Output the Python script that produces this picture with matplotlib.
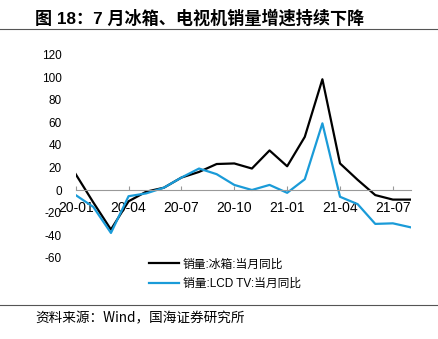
import matplotlib
matplotlib.use('Agg')
import matplotlib.pyplot as plt
from matplotlib.lines import Line2D

plt.rcParams['font.family'] = ['Liberation Sans', 'Noto Sans CJK SC', 'DejaVu Sans']

# 月份与数据
months = ['20-01', '20-02', '20-03', '20-04', '20-05', '20-06', '20-07', '20-08', '20-09', '20-10',
          '20-11', '20-12', '21-01', '21-02', '21-03', '21-04', '21-05', '21-06', '21-07', '21-08']
fridge = [14, -11, -35, -10, -1.5, 2, 11, 16, 23, 23.5, 19, 35, 21, 47, 98, 23.5, 9, -4.5, -8.5, -8.5]
lcd_tv = [-4.5, -15, -38, -5.5, -3, 2, 11, 19, 14, 4.5, 0, 4.5, -2.5, 9.5, 59, -6, -12.5, -30, -29.5, -33]
tick_labels = ['20-01', '20-04', '20-07', '20-10', '21-01', '21-04', '21-07']
yticks = [-60, -40, -20, 0, 20, 40, 60, 80, 100, 120]

fig = plt.figure(figsize=(4.38, 3.39), dpi=100)
ax = fig.add_axes([75.7 / 438, 1 - 257.8 / 339, (410.5 - 75.7) / 438, (257.8 - 54.4) / 339])

x = list(range(len(months)))
l1, = ax.plot(x, fridge, color='black', lw=1.6, label='销量:冰箱:当月同比')
l2, = ax.plot(x, lcd_tv, color='#1a9bd8', lw=1.6, label='销量:LCD TV:当月同比')

ax.set_xlim(0, len(months) - 1)
ax.set_ylim(-60, 120)
ax.set_yticks(yticks)
ax.set_yticklabels([str(v) for v in yticks], fontsize=8.5)
pos = [months.index(m) for m in tick_labels]
ax.set_xticks(pos)
ax.set_xticklabels(tick_labels, fontsize=8.5)

for s in ['top', 'right', 'left']:
    ax.spines[s].set_visible(False)
ax.spines['bottom'].set_position(('data', 0))
ax.spines['bottom'].set_color('#999999')
ax.tick_params(axis='y', length=0, pad=10)
ax.tick_params(axis='x', direction='in', length=3, color='#999999', pad=8)
ax.set_facecolor('none')

fig.legend(handles=[l1, l2], loc='upper left', bbox_to_anchor=(138 / 438, 1 - 248 / 339),
           frameon=False, fontsize=8.5, handlelength=2.6, labelspacing=0.6, handletextpad=0.3)

# 标题与来源
fig.text(35 / 438, 1 - 18 / 339, '图 18：7 月冰箱、电视机销量增速持续下降', fontsize=12.3,
         fontweight='bold', va='center', ha='left')
fig.add_artist(Line2D([0, 1], [1 - 29 / 339, 1 - 29 / 339], color='#555555', lw=0.8))
fig.add_artist(Line2D([0, 1], [1 - 304.5 / 339, 1 - 304.5 / 339], color='#555555', lw=0.8))
fig.text(35 / 438, 1 - 318 / 339, '资料来源：Wind，国海证券研究所', fontsize=9.8,
         va='center', ha='left', family=['Noto Sans CJK SC', 'DejaVu Sans'])

fig.savefig('out.png', dpi=100)
